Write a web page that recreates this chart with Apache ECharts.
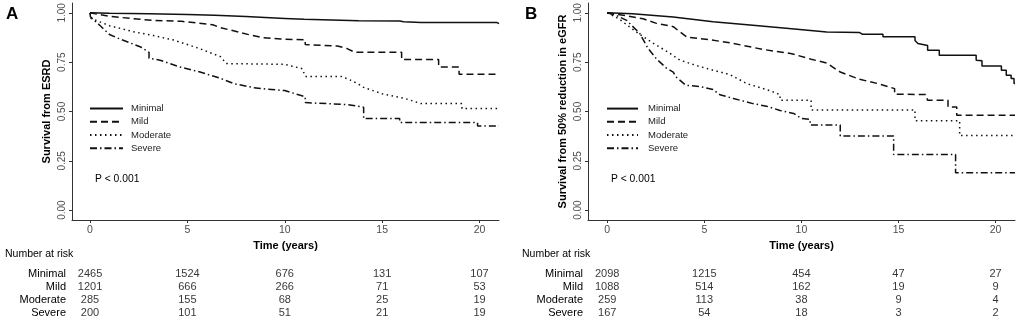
<!DOCTYPE html>
<html>
<head>
<meta charset="utf-8">
<script src="https://cdn.jsdelivr.net/npm/echarts@6/dist/echarts.min.js"></script>
<style>
html,body{margin:0;padding:0;background:#fff;}
#chart{width:1021px;height:323px;}
</style>
</head>
<body>
<div id="chart"></div>
<script>
// ---------- data ----------
const groups = ['Minimal', 'Mild', 'Moderate', 'Severe'];
const xTicks = [0, 5, 10, 15, 20];
const yTicks = [0, 0.25, 0.5, 0.75, 1];

// Panel A: survival from ESRD  [time (years), survival]
const esrdMinimal = [[0,1],[1,0.998],[3,0.995],[5,0.992],[6.4,0.988],[8,0.982],[10,0.972],[11,0.967],[13.8,0.96],[15.9,0.959],[16.1,0.955],[17,0.951],[20.9,0.951],[21,0.945]];
const esrdMild = [[0,1],[1,0.982],[3.2,0.962],[4.7,0.957],[6.3,0.94],[6.7,0.925],[8.1,0.891],[8.9,0.874],[9.8,0.867],[11.05,0.864],[11.05,0.839],[12.7,0.832],[13.2,0.819],[13.6,0.80],[16,0.80],[16,0.763],[17.9,0.763],[17.9,0.726],[18.95,0.726],[18.95,0.689],[21,0.689]];
const esrdModerate = [[0,1],[0.05,0.972],[1.0,0.935],[2.2,0.905],[3.25,0.885],[4.3,0.862],[5.6,0.82],[6.7,0.778],[7.0,0.743],[10,0.739],[10.9,0.717],[11.05,0.678],[12.9,0.678],[13.4,0.658],[13.8,0.638],[14,0.624],[15,0.59],[16.2,0.565],[17,0.54],[19.1,0.54],[19.1,0.515],[21,0.515]];
const esrdSevere = [[0,1],[0.02,0.98],[0.5,0.937],[1.0,0.89],[1.5,0.869],[2.6,0.827],[3.03,0.8],[3.03,0.77],[3.6,0.76],[4.6,0.726],[5.65,0.70],[6.7,0.668],[7.4,0.641],[8.4,0.621],[9.1,0.613],[10,0.606],[10.8,0.582],[11.05,0.575],[11.05,0.545],[13.2,0.535],[14.05,0.522],[14.05,0.464],[15.9,0.464],[15.9,0.444],[19.9,0.444],[19.9,0.427],[21,0.427]];

// Panel B: survival from 50% reduction in eGFR
const egfrMinimal = [[0,1],[1.3,0.996],[3.4,0.979],[5.45,0.955],[7.5,0.937],[9.5,0.92],[11.3,0.903],[13,0.9],[13.15,0.891],[14.2,0.891],[14.2,0.879],[15.85,0.879],[15.85,0.86],[16.0,0.845],[16.5,0.835],[16.5,0.81],[17.1,0.81],[17.1,0.785],[19.0,0.785],[19.0,0.76],[19.3,0.757],[19.3,0.731],[20.3,0.731],[20.3,0.709],[20.55,0.709],[20.55,0.684],[20.8,0.684],[20.8,0.667],[20.95,0.667],[20.95,0.642],[21,0.642]];
const egfrMild = [[0,1],[1.0,0.985],[1.85,0.97],[2.5,0.948],[3.4,0.93],[4.1,0.877],[5.2,0.865],[6.4,0.847],[8.0,0.815],[9.5,0.793],[10.5,0.765],[11.3,0.746],[12,0.70],[13,0.663],[14,0.64],[14.8,0.616],[14.8,0.588],[16.4,0.586],[16.5,0.557],[17.55,0.557],[17.55,0.523],[18.0,0.523],[18.0,0.481],[21,0.481]];
const egfrModerate = [[0,1],[0.6,0.97],[1.4,0.91],[2.3,0.85],[3.15,0.8],[3.75,0.76],[4.7,0.73],[5.5,0.708],[6.3,0.688],[7.2,0.641],[8.4,0.605],[8.9,0.585],[8.9,0.557],[10.5,0.557],[10.5,0.508],[15.85,0.508],[15.85,0.453],[18.15,0.453],[18.15,0.378],[21,0.378]];
const egfrSevere = [[0,1],[0.5,0.985],[1.0,0.962],[1.68,0.895],[2.1,0.82],[2.55,0.765],[3.05,0.72],[3.4,0.70],[3.55,0.675],[4.05,0.633],[4.8,0.626],[5.45,0.611],[5.8,0.585],[6.5,0.566],[7.5,0.54],[8.2,0.527],[8.9,0.505],[9.6,0.49],[10.0,0.465],[10.45,0.46],[10.45,0.432],[12.0,0.432],[12.0,0.376],[14.75,0.376],[14.75,0.282],[17.94,0.282],[17.94,0.19],[21,0.19]];

// Number at risk (at xTicks)
const riskEsrdMinimal = [2465, 1524, 676, 131, 107];
const riskEsrdMild = [1201, 666, 266, 71, 53];
const riskEsrdModerate = [285, 155, 68, 25, 19];
const riskEsrdSevere = [200, 101, 51, 21, 19];
const riskEgfrMinimal = [2098, 1215, 454, 47, 27];
const riskEgfrMild = [1088, 514, 162, 19, 9];
const riskEgfrModerate = [259, 113, 38, 9, 4];
const riskEgfrSevere = [167, 54, 18, 3, 2];

// ---------- styling ----------
const FONT = "'Liberation Sans', Arial, sans-serif";
const dashTypes = ['solid', [7, 4], [1.5, 3.5], [7, 3, 1.5, 3]];
const lineColor = '#111';

const esrdCurves = [esrdMinimal, esrdMild, esrdModerate, esrdSevere];
const egfrCurves = [egfrMinimal, egfrMild, egfrModerate, egfrSevere];
const esrdRisk = [riskEsrdMinimal, riskEsrdMild, riskEsrdModerate, riskEsrdSevere];
const egfrRisk = [riskEgfrMinimal, riskEgfrMild, riskEgfrModerate, riskEgfrSevere];

const panels = [
  {left: 72, xmin: -0.925, yTitle: 'Survival from ESRD', curves: esrdCurves, risk: esrdRisk, labMargin: 6},
  {left: 588, xmin: -0.99, yTitle: 'Survival from 50% reduction in eGFR', curves: egfrCurves, risk: egfrRisk, labMargin: 5}
];
const W = 427;

const grid = [], xAxis = [], yAxis = [], series = [], legend = [];
panels.forEach((p, i) => {
  grid.push({left: p.left, top: 3, width: W, height: 217, containLabel: false});
  grid.push({left: p.left, top: 267, width: W, height: 52, containLabel: false});
  const gPlot = 2 * i, gTab = 2 * i + 1;
  xAxis.push({
    gridIndex: gPlot, type: 'value', min: p.xmin, max: 21,
    axisLine: {show: true, onZero: false, lineStyle: {color: '#333', width: 1}},
    axisTick: {show: true, customValues: xTicks, length: 3, lineStyle: {color: '#333'}},
    axisLabel: {customValues: xTicks, margin: 5, fontFamily: FONT, fontSize: 10.5, color: '#4d4d4d'},
    splitLine: {show: false},
    name: 'Time (years)', nameLocation: 'middle', nameGap: 19,
    nameTextStyle: {fontFamily: FONT, fontWeight: 'bold', fontSize: 11, color: '#000'}
  });
  yAxis.push({
    gridIndex: gPlot, type: 'value', min: -0.05, max: 1.05,
    axisLine: {show: true, onZero: false, lineStyle: {color: '#333', width: 1}},
    axisTick: {show: true, customValues: yTicks, length: 3, lineStyle: {color: '#333'}},
    axisLabel: {customValues: yTicks, rotate: 90, margin: 5, fontFamily: FONT, fontSize: 10, color: '#4d4d4d',
      formatter: v => Number(v).toFixed(2)},
    splitLine: {show: false},
    name: p.yTitle, nameLocation: 'middle', nameGap: 20,
    nameTextStyle: {fontFamily: FONT, fontWeight: 'bold', fontSize: 11, color: '#000'}
  });
  xAxis.push({gridIndex: gTab, type: 'value', min: p.xmin, max: 21, show: false});
  yAxis.push({
    gridIndex: gTab, type: 'category', data: groups, inverse: true,
    axisLine: {show: false}, axisTick: {show: false}, splitLine: {show: false},
    axisLabel: {interval: 0, margin: p.labMargin, fontFamily: FONT, fontSize: 11, color: '#000'}
  });
  groups.forEach((g, k) => {
    series.push({
      type: 'line', name: g, xAxisIndex: gPlot, yAxisIndex: gPlot,
      data: p.curves[k], symbol: 'none', smooth: false,
      lineStyle: {color: lineColor, width: 1.5, type: dashTypes[k]},
      itemStyle: {color: lineColor},
      emphasis: {disabled: true}, z: 3
    });
  });
  const tableData = [];
  groups.forEach((g, k) => {
    xTicks.forEach((t, j) => tableData.push([t, g, p.risk[k][j]]));
  });
  series.push({
    type: 'scatter', name: 'risk' + i, xAxisIndex: gTab, yAxisIndex: gTab,
    data: tableData, symbolSize: 1, itemStyle: {color: 'rgba(0,0,0,0)'},
    label: {show: true, position: 'inside', formatter: q => String(q.value[2]),
      fontFamily: FONT, fontSize: 11, color: '#000'},
    labelLayout: {hideOverlap: false},
    emphasis: {disabled: true}
  });
});

const legendCommon = {
  data: groups, orient: 'vertical', top: 98, itemHeight: 14, itemGap: 2,
  itemStyle: {color: 'rgba(0,0,0,0)', borderWidth: 0},
  textStyle: {fontFamily: FONT, fontSize: 9.5, color: '#222'},
  selectedMode: false
};
legend.push(Object.assign({}, legendCommon, {left: 84, itemWidth: 33,
  textStyle: Object.assign({}, legendCommon.textStyle, {padding: [0, 0, 0, 3]})}));
legend.push(Object.assign({}, legendCommon, {left: 601, itemWidth: 31,
  textStyle: Object.assign({}, legendCommon.textStyle, {padding: [0, 0, 0, 5]})}));

const texts = [
  {x: 6, y: 6, text: 'A', font: 'bold 17px ' + FONT},
  {x: 525, y: 6, text: 'B', font: 'bold 17px ' + FONT},
  {x: 95, y: 174, text: 'P < 0.001', font: '10.3px ' + FONT},
  {x: 611, y: 174, text: 'P < 0.001', font: '10.3px ' + FONT},
  {x: 5, y: 249, text: 'Number at risk', font: '10.5px ' + FONT},
  {x: 522, y: 249, text: 'Number at risk', font: '10.5px ' + FONT}
];

const chart = echarts.init(document.getElementById('chart'), null, {renderer: 'canvas'});
chart.setOption({
  animation: false,
  backgroundColor: '#fff',
  textStyle: {fontFamily: FONT},
  grid, xAxis, yAxis, series, legend,
  graphic: texts.map(t => ({type: 'text', left: t.x, top: t.y, style: {text: t.text, font: t.font, fill: '#000'}}))
});
</script>
</body>
</html>
